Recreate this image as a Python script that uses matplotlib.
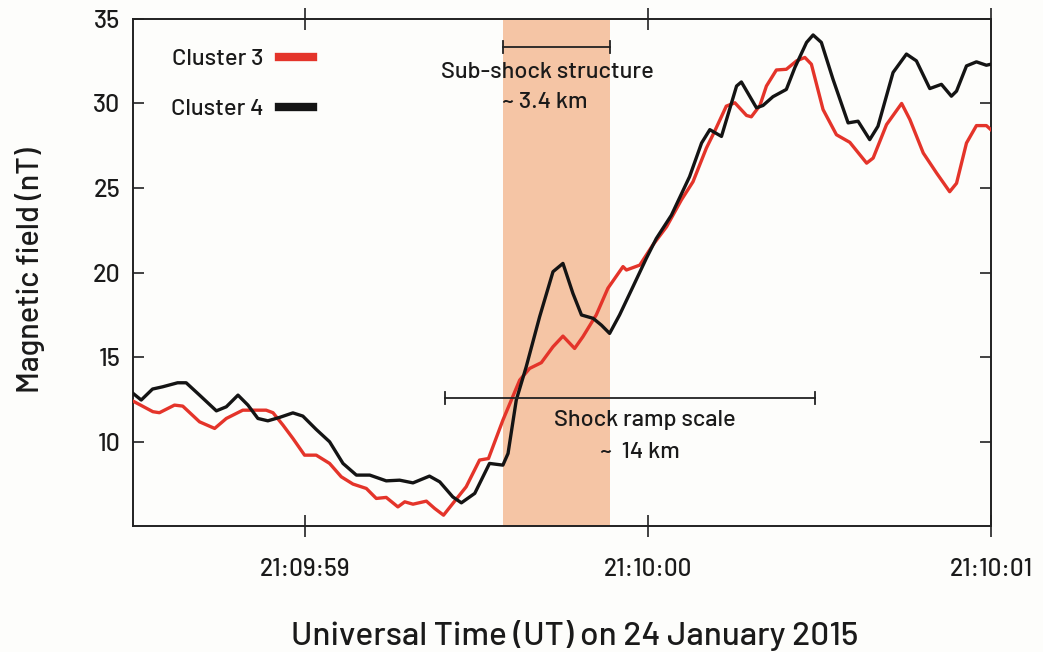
import matplotlib
matplotlib.use("Agg")
import matplotlib.pyplot as plt
from matplotlib import font_manager as fm
from matplotlib.lines import Line2D

# ---------------- data (seconds after 21:09:00 UT) ----------------
c4_t = [58.498, 58.524, 58.557, 58.586, 58.630, 58.655, 58.694, 58.743, 58.772, 58.806,
        58.835, 58.864, 58.893, 58.927, 58.966, 58.995, 59.034, 59.073, 59.112, 59.151,
        59.190, 59.238, 59.277, 59.316, 59.364, 59.394, 59.432, 59.457, 59.496, 59.539,
        59.578, 59.593, 59.617, 59.646, 59.685, 59.724, 59.753, 59.782, 59.807, 59.841,
        59.865, 59.889, 59.918, 59.957, 59.996, 60.025, 60.069, 60.122, 60.157, 60.181,
        60.215, 60.259, 60.273, 60.317, 60.336, 60.365, 60.404, 60.429, 60.463, 60.482,
        60.506, 60.540, 60.584, 60.613, 60.647, 60.671, 60.715, 60.754, 60.783, 60.822,
        60.856, 60.885, 60.900, 60.929, 60.958, 60.987, 61.000]
c4_b = [12.89, 12.46, 13.11, 13.24, 13.48, 13.48, 12.75, 11.82, 12.06, 12.75,
        12.16, 11.37, 11.23, 11.43, 11.70, 11.51, 10.72, 9.99, 8.71, 8.02,
        8.02, 7.68, 7.72, 7.56, 7.96, 7.62, 6.73, 6.38, 6.94, 8.71,
        8.61, 9.30, 12.46, 14.43, 17.38, 20.05, 20.54, 18.77, 17.49, 17.29,
        16.89, 16.40, 17.49, 19.16, 20.84, 22.01, 23.39, 25.67, 27.66, 28.45,
        28.05, 31.03, 31.27, 29.74, 29.88, 30.40, 30.83, 32.13, 33.61, 34.05,
        33.61, 31.43, 28.85, 28.95, 27.86, 28.65, 31.83, 32.92, 32.52, 30.88,
        31.13, 30.43, 30.73, 32.22, 32.46, 32.26, 32.32]

c3_t = [58.498, 58.558, 58.577, 58.621, 58.645, 58.694, 58.738, 58.772, 58.820, 58.888,
        58.908, 58.937, 58.966, 59.000, 59.034, 59.073, 59.107, 59.141, 59.180, 59.209,
        59.238, 59.272, 59.292, 59.316, 59.355, 59.379, 59.405, 59.432, 59.471, 59.510,
        59.536, 59.578, 59.627, 59.656, 59.690, 59.724, 59.753, 59.787, 59.811, 59.850,
        59.884, 59.928, 59.938, 59.977, 60.015, 60.055, 60.098, 60.132, 60.171, 60.195,
        60.229, 60.254, 60.288, 60.302, 60.327, 60.346, 60.375, 60.404, 60.434, 60.458,
        60.477, 60.511, 60.550, 60.589, 60.638, 60.657, 60.696, 60.740, 60.764, 60.803,
        60.842, 60.880, 60.900, 60.929, 60.958, 60.987, 61.000]
c3_b = [12.42, 11.77, 11.71, 12.16, 12.10, 11.17, 10.78, 11.37, 11.86, 11.86,
        11.71, 10.98, 10.19, 9.20, 9.20, 8.71, 7.92, 7.49, 7.23, 6.64,
        6.70, 6.14, 6.44, 6.30, 6.48, 6.05, 5.65, 6.34, 7.33, 8.91,
        9.00, 11.27, 13.64, 14.33, 14.67, 15.61, 16.24, 15.51, 16.20, 17.49,
        19.07, 20.35, 20.15, 20.44, 21.63, 22.71, 24.29, 25.37, 27.36, 28.35,
        29.84, 30.04, 29.29, 29.21, 29.88, 31.03, 31.98, 32.02, 32.52, 32.72,
        32.32, 29.64, 28.15, 27.70, 26.47, 26.77, 28.75, 30.00, 29.05, 27.07,
        25.88, 24.78, 25.28, 27.66, 28.69, 28.69, 28.45]

x_ticks = [59.0, 60.0, 61.0]
x_tick_labels = ["21:09:59", "21:10:00", "21:10:01"]
y_ticks = [10, 15, 20, 25, 30, 35]
series_labels = ["Cluster 3", "Cluster 4"]

substructure_span = (59.577, 59.889)   # shaded sub-shock interval
ramp_span = (59.408, 60.487)           # shock ramp interval

# ---------------- font ----------------
names = {f.name for f in fm.fontManager.ttflist}
font = "DejaVu Sans"
for cand in ["Barlow", "Barlow Semi Condensed", "Encode Sans Semi Condensed",
             "Archivo Narrow"]:
    if cand in names:
        font = cand
        break
plt.rcParams["font.family"] = [font, "DejaVu Sans"]
plt.rcParams["font.weight"] = 500
plt.rcParams["axes.labelweight"] = 500

RED = "#e4342a"
BLACK = "#141414"
BAND = "#f5c5a5"
AX = "#222222"
BG = "#fdfdfb"
TXT = "#1a1a1a"

fig = plt.figure(figsize=(10.43, 6.52), dpi=100, facecolor=BG)
ax = fig.add_axes([0.1275, 0.193, 0.8225, 0.778], facecolor=BG)

ax.axvspan(*substructure_span, color=BAND, lw=0, zorder=0)
ax.plot(c3_t, c3_b, color=RED, lw=2.4, zorder=3, solid_joinstyle="round")
ax.plot(c4_t, c4_b, color=BLACK, lw=2.4, zorder=4, solid_joinstyle="round")

ax.set_xlim(58.5, 61.0)
ax.set_ylim(5, 35)
ax.set_xticks(x_ticks)
ax.set_xticklabels(x_tick_labels)
ax.set_yticks(y_ticks)
ax.tick_params(axis="x", direction="inout", length=16, width=1.2, color=AX,
               labelsize=17.5, pad=15, top=True, labelcolor=TXT)
ax.tick_params(axis="y", direction="in", length=8, width=1.2, color=AX,
               labelsize=18, pad=9, right=True, labelcolor=TXT)
for sp in ax.spines.values():
    sp.set_color(AX)
    sp.set_linewidth(1.4)

ax.set_xlabel("Universal Time (UT) on 24 January 2015", fontsize=24, color=TXT)
ax.xaxis.set_label_coords(0.5146, -0.185)
ax.set_ylabel("Magnetic field (nT)", fontsize=22, color=TXT)
ax.yaxis.set_label_coords(-0.103, 0.504)

# brackets
cap = 0.35
ax.plot(substructure_span, [33.35, 33.35], color=AX, lw=1.3, zorder=5)
for xv in substructure_span:
    ax.plot([xv, xv], [33.35 - cap, 33.35 + cap], color=AX, lw=1.3, zorder=5)
ax.plot(ramp_span, [12.57, 12.57], color=AX, lw=1.3, zorder=5)
for xv in ramp_span:
    ax.plot([xv, xv], [12.57 - cap, 12.57 + cap], color=AX, lw=1.3, zorder=5)

ax.text(59.708, 31.85, "Sub-shock structure", ha="center", va="center", fontsize=17,
        color=TXT, zorder=6)
ax.text(59.700, 30.10, "~ 3.4 km", ha="center", va="center", fontsize=17, color=TXT,
        zorder=6)
ax.text(59.991, 11.30, "Shock ramp scale", ha="center", va="center", fontsize=17,
        color=TXT, zorder=6)
ax.text(59.977, 9.40, "~  14 km", ha="center", va="center", fontsize=17, color=TXT, zorder=6)

handles = [Line2D([], [], color=RED, lw=6), Line2D([], [], color=BLACK, lw=6)]
ax.legend(handles, series_labels, loc="upper left", bbox_to_anchor=(0.0195, 0.984),
          frameon=False, markerfirst=False, fontsize=17, handlelength=1.45,
          handletextpad=0.65, labelspacing=1.25, labelcolor=TXT)

fig.savefig("out.png", dpi=100, facecolor=BG)
